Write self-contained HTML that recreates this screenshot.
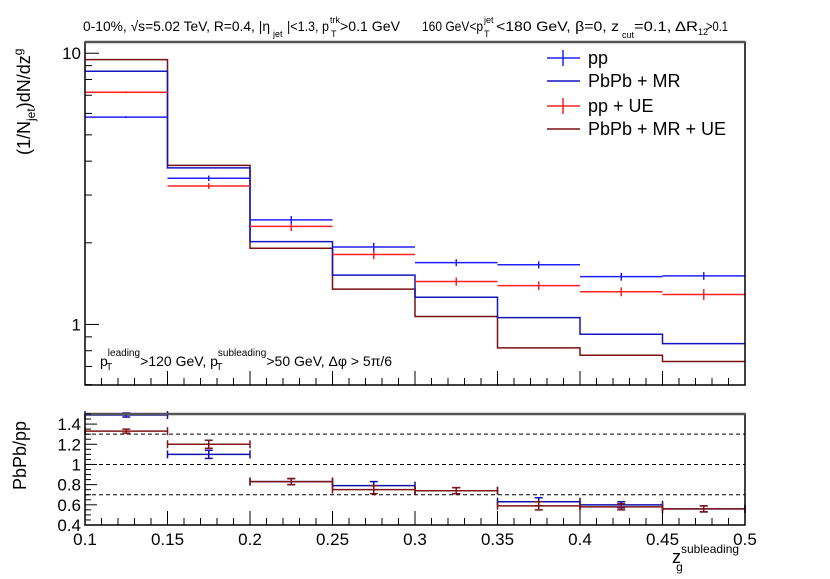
<!DOCTYPE html>
<html><head><meta charset="utf-8"><style>
body{margin:0;background:#fff}
svg{display:block;font-family:"Liberation Sans",Arial,sans-serif}
</style></head><body>
<svg id="c" width="830" height="579" viewBox="0 0 830 579" xmlns="http://www.w3.org/2000/svg">
<g font-size="14">
<text x="83" y="31" textLength="187" lengthAdjust="spacingAndGlyphs">0-10%, √s=5.02 TeV, R=0.4, |η</text>
<text x="273" y="37" font-size="9">jet</text>
<text x="287" y="31" textLength="42" lengthAdjust="spacingAndGlyphs">|&lt;1.3, p</text>
<text x="330" y="23" font-size="9">trk</text>
<text x="331" y="37" font-size="9">T</text>
<text x="340" y="31" textLength="60" lengthAdjust="spacingAndGlyphs">&gt;0.1 GeV</text>
<text x="422" y="31" textLength="61" lengthAdjust="spacingAndGlyphs">160 GeV&lt;p</text>
<text x="484" y="23" font-size="9">jet</text>
<text x="484" y="37" font-size="9">T</text>
<text x="496" y="31" textLength="123" lengthAdjust="spacingAndGlyphs">&lt;180 GeV, β=0, z</text>
<text x="622" y="38" font-size="9">cut</text>
<text x="634" y="31" textLength="64" lengthAdjust="spacingAndGlyphs">=0.1, ΔR</text>
<text x="698" y="35" font-size="9">12</text>
<text x="706" y="31" textLength="22" lengthAdjust="spacingAndGlyphs">&gt;0.1</text>
</g>
<g id="topg"></g><g id="botg"></g>
<text transform="translate(30,155) rotate(-90)" font-size="18">(1/N<tspan font-size="12" dy="5">jet</tspan><tspan dy="-5">)dN/dz</tspan><tspan font-size="12" dy="-8">g</tspan></text>
<text transform="translate(26,490) rotate(-90)" font-size="18">PbPb/pp</text>
<text x="672" y="563" font-size="18">z<tspan font-size="12" dy="-10">subleading</tspan><tspan font-size="12" dx="-63" dy="18">g</tspan></text>
<text x="100" y="366" font-size="14">p<tspan font-size="10" dy="-10">leading</tspan><tspan font-size="10" dx="-34" dy="14">T</tspan><tspan dx="28" dy="-4">&gt;120 GeV, p</tspan><tspan font-size="10" dy="-10">subleading</tspan><tspan font-size="10" dx="-50" dy="14">T</tspan><tspan dx="44" dy="-4">&gt;50 GeV, Δφ &gt; 5π/6</tspan></text>
<g>
<line x1="547" y1="58" x2="580" y2="58" stroke="#2020ff" stroke-width="1.5"/><line x1="563" y1="50" x2="563" y2="66" stroke="#2020ff" stroke-width="1.5"/>
<text x="588" y="64" font-size="18">pp</text>
<line x1="547" y1="81" x2="580" y2="81" stroke="#1515c0" stroke-width="1.5"/>
<text x="588" y="87" font-size="18">PbPb + MR</text>
<line x1="547" y1="106" x2="580" y2="106" stroke="#ff2020" stroke-width="1.5"/><line x1="563" y1="98" x2="563" y2="114" stroke="#ff2020" stroke-width="1.5"/>
<text x="588" y="112" font-size="18">pp + UE</text>
<line x1="547" y1="129" x2="580" y2="129" stroke="#7a1010" stroke-width="1.5"/>
<text x="588" y="135" font-size="18">PbPb + MR + UE</text>
</g>
</svg>
<script>
const binEdges=[0.1,0.15,0.2,0.25,0.3,0.35,0.4,0.45,0.5];
const ppVals=[5.81,3.46,2.43,1.93,1.69,1.66,1.50,1.51];
const ppErr=[0.05,0.08,0.08,0.07,0.05,0.05,0.05,0.05];
const ppUeVals=[7.18,3.24,2.30,1.81,1.44,1.39,1.32,1.29];
const ppUeErr=[0.06,0.08,0.09,0.07,0.05,0.05,0.05,0.06];
const pbpbMrVals=[8.58,3.78,2.02,1.52,1.26,1.06,0.92,0.85];
const pbpbMrUeVals=[9.47,3.86,1.91,1.35,1.07,0.82,0.77,0.73];
const ratioMrVals=[1.49,1.10,0.83,0.79,0.74,0.63,0.60,0.56];
const ratioMrErr=[0.02,0.04,0.03,0.04,0.03,0.04,0.03,0.03];
const ratioMrUeVals=[1.33,1.20,0.83,0.75,0.74,0.59,0.58,0.56];
const ratioMrUeErr=[0.02,0.04,0.03,0.04,0.03,0.04,0.03,0.03];
const xTicks=[0.1,0.15,0.2,0.25,0.3,0.35,0.4,0.45,0.5];
const xTickLabels=["0.1","0.15","0.2","0.25","0.3","0.35","0.4","0.45","0.5"];
const ratioTicks=[0.4,0.6,0.8,1,1.2,1.4];
const ratioTickLabels=["0.4","0.6","0.8","1","1.2","1.4"];
const ratioRefLines=[0.7,1.0,1.3];

const NS="http://www.w3.org/2000/svg";
const L=85,R=745,T1=42,B1=385,T2=414,B2=525;
const X=v=>L+(v-0.1)/0.4*(R-L);
const lmin=Math.log10(0.598),lmax=Math.log10(11.0);
const Y1=v=>B1-(Math.log10(v)-lmin)/(lmax-lmin)*(B1-T1);
const Y2=v=>B2-(v-0.4)/1.1*(B2-T2);
function mk(p,tag,a){const e=document.createElementNS(NS,tag);for(const k in a)e.setAttribute(k,a[k]);p.appendChild(e);return e;}
const gTop=document.getElementById('topg'),gBot=document.getElementById('botg');

function step(g,vals,col,name){
  let d='';vals.forEach((v,i)=>{d+=(i?'L':'M')+X(binEdges[i])+','+Y1(v)+'L'+X(binEdges[i+1])+','+Y1(v);});
  const p=mk(g,'path',{d:d,fill:'none',stroke:col,'stroke-width':1.5});
  
  
}
function pts(g,vals,err,col,name){
  vals.forEach((v,i)=>{
    const gg=mk(g,'g',{stroke:col,'stroke-width':1.5});
    
    
    const xc=X((binEdges[i]+binEdges[i+1])/2);
    mk(gg,'line',{x1:X(binEdges[i]),x2:X(binEdges[i+1]),y1:Y1(v),y2:Y1(v)});
    mk(gg,'line',{x1:xc,x2:xc,y1:Y1(v+err[i]),y2:Y1(v-err[i])});
  });
}
step(gTop,pbpbMrUeVals,'#7a1010','pbpb-mr-ue-hist');
step(gTop,pbpbMrVals,'#1515c0','pbpb-mr-hist');
pts(gTop,ppUeVals,ppUeErr,'#ff2020','pp-ue');
pts(gTop,ppVals,ppErr,'#2020ff','pp');

function frame(g,t,b,name){
  const r=mk(g,'rect',{x:L,y:t,width:R-L,height:b-t,fill:'none',stroke:'#000','stroke-width':1.5});
  
  
  mk(g,'line',{x1:L,x2:R,y1:t,y2:t,stroke:'#555','stroke-width':2.5});
  for(let k=0;k<=40;k++){
    const v=0.1+k*0.01;
    const maj=(k%5===0);
    mk(g,'line',{x1:X(v),x2:X(v),y1:b,y2:b-(maj?14:7),stroke:'#000','stroke-width':1});
  }
}
frame(gTop,T1,B1,'main-plot-frame');
[0.6,0.7,0.8,0.9,1,2,3,4,5,6,7,8,9,10].forEach(v=>{
  const maj=(v===1||v===10);
  mk(gTop,'line',{x1:L,x2:L+(maj?14:7),y1:Y1(v),y2:Y1(v),stroke:'#000','stroke-width':1});
});
[[1,'1'],[10,'10']].forEach(([v,s])=>{
  const t=mk(gTop,'text',{x:L-4,y:Y1(v)+6,'font-size':17,'text-anchor':'end'});t.textContent=s;
  
  
});

ratioRefLines.forEach(v=>{
  const l=mk(gBot,'line',{x1:L,x2:R,y1:Y2(v),y2:Y2(v),stroke:'#000','stroke-width':1,'stroke-dasharray':'4,3'});
  
  
});
function rpts(vals,err,col,name){
  vals.forEach((v,i)=>{
    const gg=mk(gBot,'g',{stroke:col,'stroke-width':1.5});
    
    
    const x0=X(binEdges[i]),x1=X(binEdges[i+1]),xc=(x0+x1)/2,y=Y2(v);
    mk(gg,'line',{x1:x0,x2:x1,y1:y,y2:y});
    mk(gg,'line',{x1:x0,x2:x0,y1:y-4,y2:y+4});
    mk(gg,'line',{x1:x1,x2:x1,y1:y-4,y2:y+4});
    const ya=Y2(v+err[i]),yb=Y2(v-err[i]);
    mk(gg,'line',{x1:xc,x2:xc,y1:ya,y2:yb});
    mk(gg,'line',{x1:xc-4,x2:xc+4,y1:ya,y2:ya});
    mk(gg,'line',{x1:xc-4,x2:xc+4,y1:yb,y2:yb});
  });
}
rpts(ratioMrVals,ratioMrErr,'#1010b0','ratio-pbpb-mr');
rpts(ratioMrUeVals,ratioMrUeErr,'#801515','ratio-pbpb-mr-ue');
frame(gBot,T2,B2,'ratio-plot-frame');
for(let k=0;k<=22;k++){
  const v=0.4+k*0.05;
  const maj=(k%4===0);
  mk(gBot,'line',{x1:L,x2:L+(maj?12:6),y1:Y2(v),y2:Y2(v),stroke:'#000','stroke-width':1});
}
ratioTicks.forEach((v,i)=>{
  const t=mk(gBot,'text',{x:L-4,y:Y2(v)+6,'font-size':17,'text-anchor':'end'});t.textContent=ratioTickLabels[i];
  
  
});
xTicks.forEach((v,i)=>{
  const t=mk(gBot,'text',{x:X(v),y:B2+20,'font-size':17,'text-anchor':'middle'});t.textContent=xTickLabels[i];
  
  
});
</script>
</body></html>
